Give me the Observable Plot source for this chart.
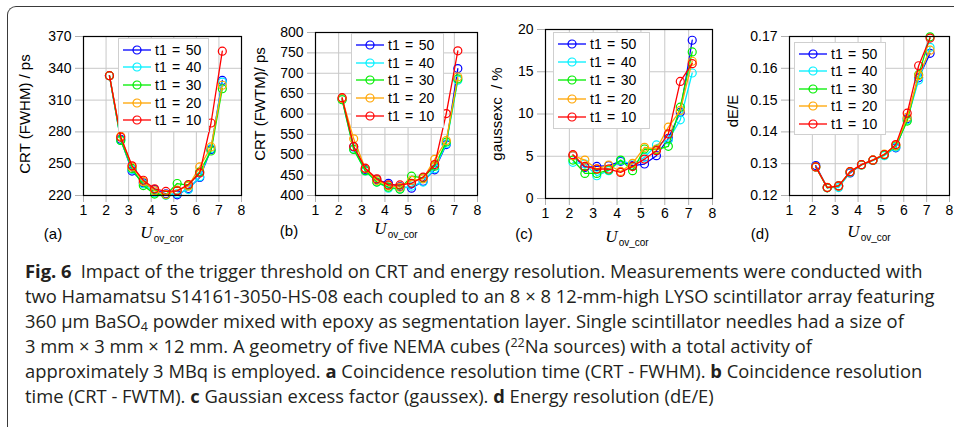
<!DOCTYPE html>
<html><head><meta charset="utf-8">
<script src="https://cdn.jsdelivr.net/npm/d3@7"></script>
<script src="https://cdn.jsdelivr.net/npm/@observablehq/plot@0.6"></script>
<style>
body{margin:0;background:#fff;}
#root{position:relative;width:954px;height:427px;overflow:hidden;font-family:"Liberation Sans",sans-serif;color:#000;}
.boxline{position:absolute;left:7px;top:6px;width:990px;height:460px;border-left:1.4px solid #3a3a3a;border-top:1.4px solid #3a3a3a;border-top-left-radius:9px;}
.panel{position:absolute;top:0;}
.legend{position:absolute;background:#fff;border:1px solid #cfcfcf;display:flex;flex-direction:column;justify-content:space-evenly;padding-left:4px;box-sizing:border-box;font-size:14px;}
.legend .row{display:flex;align-items:center;height:14px;white-space:nowrap;word-spacing:1.5px;}
.legend svg{margin-right:4px;flex:none;}
.xlab{position:absolute;transform:translate(-50%,-50%);white-space:nowrap;}
.xlab .u{font-family:"Liberation Serif",serif;font-style:italic;font-size:17px;}
.xlab .s{font-family:"Liberation Sans",sans-serif;font-size:10px;position:relative;top:4px;margin-left:1px;}
.plab{position:absolute;transform:translate(-50%,-50%);font-size:15px;}
#caption{position:absolute;left:25px;top:258px;font-family:"Open Sans",sans-serif;font-size:17.5px;color:#231f20;white-space:nowrap;}
#caption .ln{height:25px;line-height:25px;}
#caption sub,#caption sup{font-size:0.68em;line-height:0;position:relative;vertical-align:baseline;}
#caption sub{top:0.22em;}
#caption sup{top:-0.5em;}
</style></head>
<body><div id="root"><div class="boxline"></div>
<div id="caption">
<div class="ln"><b>Fig. 6</b>&ensp;Impact of the trigger threshold on CRT and energy resolution. Measurements were conducted with</div>
<div class="ln">two Hamamatsu S14161-3050-HS-08 each coupled to an 8 × 8 12-mm-high LYSO scintillator array featuring</div>
<div class="ln">360 μm BaSO<sub>4</sub> powder mixed with epoxy as segmentation layer. Single scintillator needles had a size of</div>
<div class="ln">3 mm × 3 mm × 12 mm. A geometry of five NEMA cubes (<sup>22</sup>Na sources) with a total activity of</div>
<div class="ln">approximately 3 MBq is employed. <b>a</b> Coincidence resolution time (CRT - FWHM). <b>b</b> Coincidence resolution</div>
<div class="ln">time (CRT - FWTM). <b>c</b> Gaussian excess factor (gaussex). <b>d</b> Energy resolution (dE/E)</div>
</div>
</div>
<script>
// ---------- data ----------
const xValues = [2.15, 2.65, 3.15, 3.65, 4.15, 4.65, 5.15, 5.65, 6.15, 6.65, 7.15];
const seriesNames = ["t1 = 50", "t1 = 40", "t1 = 30", "t1 = 20", "t1 = 10"];
const xTicks = [1, 2, 3, 4, 5, 6, 7, 8];

// (a) CRT FWHM [ps], one row per series in seriesNames order
const crtFwhm = [
  [333, 273, 243, 232, 225.6, 221.6, 220.6, 226.6, 237, 263.3, 328.6],
  [333, 272, 244.5, 231, 222.5, 220.3, 221.9, 225.6, 237.6, 264.3, 327],
  [333, 272, 245.5, 229.4, 221.3, 220.6, 231.3, 229.7, 242.3, 262, 320.7],
  [333, 276, 247, 233, 224.4, 221, 225, 228.8, 247, 265.8, 324],
  [333, 275, 248, 234.4, 226.3, 223.8, 224.4, 230.4, 241.3, 288.4, 356.2]
];
const crtFwhmTicks = [220, 250, 280, 310, 340, 370];

// (b) CRT FWTM [ps]
const crtFwtm = [
  [637, 519, 464, 438.5, 430, 422, 418, 435, 463, 525, 711.5],
  [636, 514, 460, 433, 418, 416, 423, 433, 465.6, 527, 683],
  [635, 513, 461, 433, 420.5, 415.6, 447.5, 443.4, 472, 531, 686],
  [638, 539, 466, 437, 424, 420.5, 437, 441, 488.5, 535, 691],
  [640, 520.5, 467, 441, 426, 426, 430, 445, 476, 601, 755]
];
const crtFwtmTicks = [400, 450, 500, 550, 600, 650, 700, 750, 800];

// (c) gaussian excess [%]
const gaussexc = [
  [5.07, 3.68, 3.8, 3.88, 4.4, 3.88, 4.08, 5.07, 7.13, 10.2, 18.73],
  [4.28, 4.08, 2.69, 3.29, 4.47, 4.08, 4.87, 6.34, 6.93, 9.31, 14.85],
  [4.55, 2.97, 2.97, 3.37, 4.55, 3.29, 5.86, 5.78, 6.18, 10.81, 17.35],
  [5.07, 4.55, 3.5, 3.96, 3.2, 4.16, 6.06, 5.86, 8.44, 10.42, 16.24],
  [5.19, 3.8, 3.49, 3.49, 3.09, 3.8, 4.67, 5.66, 7.64, 13.86, 15.96]
];
const gaussexcTicks = [0, 5, 10, 15, 20];

// (d) energy resolution dE/E
const energyRes = [
  [0.1294, 0.1225, 0.1230, 0.1271, 0.1297, 0.1311, 0.1328, 0.1350, 0.1441, 0.1570, 0.1647],
  [0.1290, 0.1225, 0.1225, 0.1273, 0.1296, 0.1310, 0.1325, 0.1352, 0.1438, 0.1563, 0.1666],
  [0.1290, 0.1224, 0.1230, 0.1274, 0.1296, 0.1311, 0.1328, 0.1356, 0.1434, 0.1580, 0.1699],
  [0.1290, 0.1226, 0.1230, 0.1275, 0.1297, 0.1312, 0.1330, 0.1358, 0.1446, 0.1577, 0.1657],
  [0.1290, 0.1225, 0.1230, 0.1275, 0.1297, 0.1311, 0.1329, 0.1360, 0.1459, 0.1608, 0.1695]
];
const energyResTicks = [0.12, 0.13, 0.14, 0.15, 0.16, 0.17];

const yLabels = ["CRT (FWHM) / ps", "CRT (FWTM)/ ps", "gaussexc  / %", "dE/E"];
const panelTags = ["(a)", "(b)", "(c)", "(d)"];

// ---------- styles / layout ----------
const seriesColors = ["#0000ff", "#00f0ff", "#00ee00", "#ffa500", "#ff0000"];
const panels = [
  {values: crtFwhm, ticks: crtFwhmTicks, svgLeft: 0, width: 247, ml: 83, mr: 6, top: 36, bottom: 195, ylx: -58, yly: -2,
   legend: [118, 38, 91, 94], xlab: [162, 233], plab: [53, 233]},
  {values: crtFwtm, ticks: crtFwtmTicks, svgLeft: 247, width: 236, ml: 68, mr: 6, top: 32, bottom: 195, ylx: -55, yly: -10,
   legend: [351, 33, 93, 95], xlab: [396, 229], plab: [289, 230]},
  {values: gaussexc, ticks: gaussexcTicks, svgLeft: 483, width: 235, ml: 62, mr: 6, top: 29, bottom: 198, ylx: -48, yly: 0,
   legend: [553, 32, 97, 97], xlab: [627, 237], plab: [524, 233]},
  {values: energyRes, ticks: energyResTicks, svgLeft: 718, width: 236, ml: 71, mr: 5, top: 36, bottom: 195, ylx: -56, yly: -5,
   legend: [794, 42, 92, 93], xlab: [869, 232], plab: [760, 233]}
];
const H = 250;
const root = document.getElementById("root");

panels.forEach((p, k) => {
  const seriesMarks = [];
  p.values.forEach((vals, s) => {
    const rows = xValues.map((x, i) => ({x, y: vals[i]}));
    seriesMarks.push(Plot.line(rows, {x: "x", y: "y", stroke: seriesColors[s], strokeWidth: 1.3}));
    seriesMarks.push(Plot.dot(rows, {x: "x", y: "y", stroke: seriesColors[s], r: 4, strokeWidth: 1.2, fill: "none"}));
  });
  const chart = Plot.plot({
    width: p.width, height: H,
    marginLeft: p.ml, marginRight: p.mr, marginTop: p.top, marginBottom: H - p.bottom,
    style: {background: "transparent", fontFamily: "Liberation Sans, sans-serif", fontSize: "14px", overflow: "visible", maxWidth: "none"},
    x: {domain: [1, 8]},
    y: {domain: [p.ticks[0], p.ticks[p.ticks.length - 1]]},
    marks: [
      Plot.gridX(xTicks, {stroke: "#c8c8c8", strokeOpacity: 1}),
      Plot.gridY(p.ticks, {stroke: "#c8c8c8", strokeOpacity: 1}),
      Plot.axisX(xTicks, {tickSize: 7, tickPadding: 3, stroke: "#b0b0b0", fill: "#000", label: null, fontSize: 14}),
      Plot.axisY(p.ticks, {tickSize: 8, tickPadding: 4, stroke: "#b0b0b0", fill: "#000", label: null, fontSize: 14}),
      Plot.text([yLabels[k]], {frameAnchor: "left", text: d => d, rotate: -90, textAnchor: "middle", lineAnchor: "middle", dx: p.ylx, dy: p.yly, fontSize: 15, fill: "#000"}),
      ...seriesMarks,
      Plot.frame({stroke: "#000", strokeWidth: 1.2})
    ]
  });
  chart.classList.add("panel");
  chart.style.left = p.svgLeft + "px";
  root.appendChild(chart);

  // legend
  const lg = document.createElement("div");
  lg.className = "legend";
  Object.assign(lg.style, {left: p.legend[0] + "px", top: p.legend[1] + "px", width: p.legend[2] + "px", height: p.legend[3] + "px"});
  seriesNames.forEach((name, s) => {
    const row = document.createElement("div");
    row.className = "row";
    row.innerHTML = `<svg width="28" height="12"><line x1="0" y1="6" x2="28" y2="6" stroke="${seriesColors[s]}" stroke-width="1.3"/><circle cx="14" cy="6" r="4" fill="none" stroke="${seriesColors[s]}" stroke-width="1.2"/></svg><span>${name}</span>`;
    lg.appendChild(row);
  });
  root.appendChild(lg);

  const xl = document.createElement("div");
  xl.className = "xlab";
  xl.style.left = p.xlab[0] + "px"; xl.style.top = p.xlab[1] + "px";
  xl.innerHTML = `<span class="u">U</span><span class="s">ov_cor</span>`;
  root.appendChild(xl);

  const pl = document.createElement("div");
  pl.className = "plab";
  pl.style.left = p.plab[0] + "px"; pl.style.top = p.plab[1] + "px";
  pl.textContent = panelTags[k];
  root.appendChild(pl);
});

// fit caption line 1 to its width in the reference
const cap = document.getElementById("caption");
root.appendChild(cap);
const first = cap.querySelector(".ln");
const range = document.createRange();
range.selectNodeContents(first);
const w = range.getBoundingClientRect().width;
const fs = 17.5 * 898 / w;
cap.style.fontSize = fs.toFixed(2) + "px";
</script>
</body></html>
